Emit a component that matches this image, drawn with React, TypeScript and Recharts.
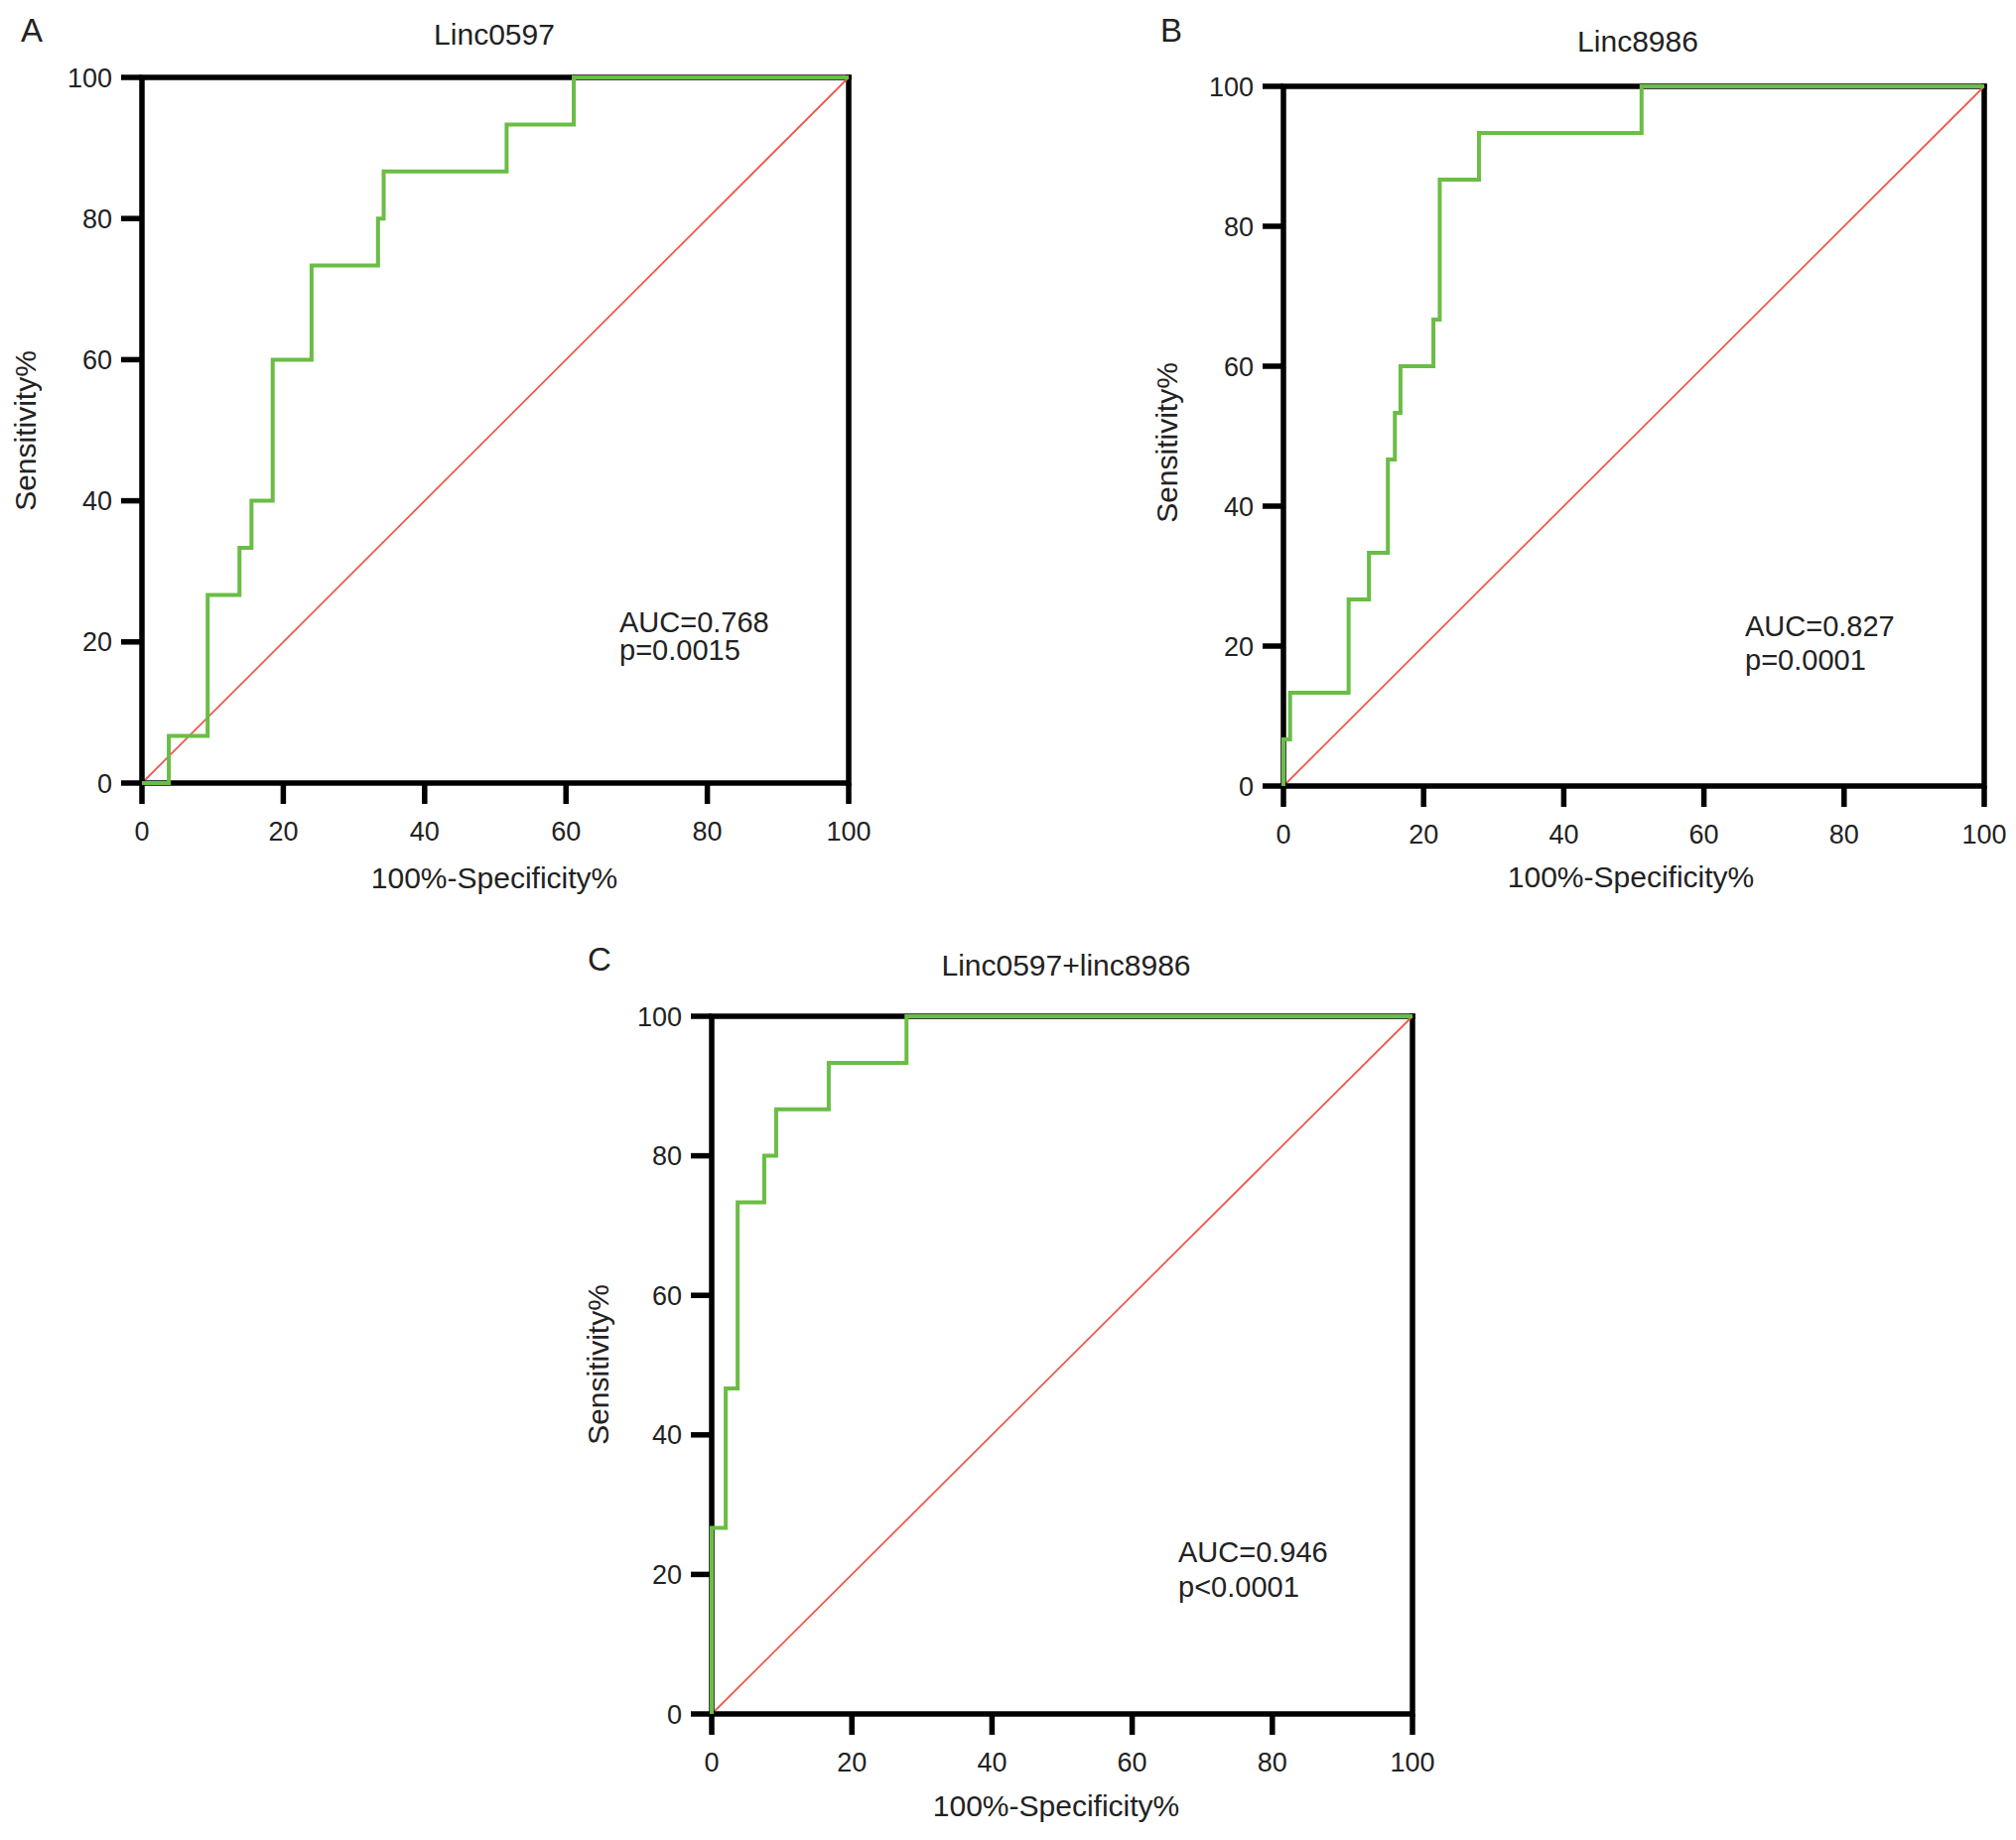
import { LineChart, Line, XAxis, YAxis, ReferenceLine } from 'recharts';

const FONT = '"Liberation Sans", Arial, Helvetica, sans-serif';
const INK = '#222';

const axisTicks = [0, 20, 40, 60, 80, 100];
const chanceFpr = [0, 100];
const chanceSens = [0, 100];

// Linc0597 ROC (100% - specificity %, sensitivity %)
const linc0597Fpr = [0, 3.8, 9.3, 13.8, 15.5, 18.5, 24.0, 33.4, 34.2, 51.6, 61.1, 100];
const linc0597Sens = [0, 6.67, 26.67, 33.33, 40, 60, 73.33, 80, 86.67, 93.33, 100, 100];

// Linc8986 ROC
const linc8986Fpr = [0, 0, 0.95, 9.3, 12.2, 14.9, 15.9, 16.7, 21.4, 22.3, 27.9, 51.1, 100];
const linc8986Sens = [0, 6.67, 13.33, 26.67, 33.33, 46.67, 53.33, 60, 66.67, 86.67, 93.33, 100, 100];

// Linc0597 + linc8986 ROC
const comboFpr = [0, 0, 2.0, 3.7, 7.5, 9.2, 16.7, 27.8, 100];
const comboSens = [0, 26.67, 46.67, 73.33, 80, 86.67, 93.33, 100, 100];

const zip = (xs: number[], ys: number[]) => xs.map((x, i) => ({ x, y: ys[i] }));

function RocPanel({ fpr, sens, left, top, width, height, mt, mr }: any) {
  const roc = zip(fpr, sens);
  const chance = zip(chanceFpr, chanceSens);
  const tick = { fill: INK, fontSize: 27, fontFamily: FONT };
  const line = { stroke: '#000', strokeWidth: 5.5 };
  return (
    <div style={{ position: 'absolute', left, top }}>
      <LineChart width={width} height={height} margin={{ top: mt, right: mr, bottom: 0, left: 0 }}>
        <XAxis type="number" dataKey="x" domain={[0, 100]} ticks={axisTicks} interval={0} height={110}
          tickSize={21} tickMargin={18} axisLine={line} tickLine={line} tick={tick} />
        <YAxis type="number" dataKey="y" domain={[0, 100]} ticks={axisTicks} interval={0} width={143}
          tickSize={21} tickMargin={9} axisLine={line} tickLine={line} tick={tick} />
        <ReferenceLine y={100} stroke="#000" strokeWidth={5.5} strokeLinecap="square" />
        <ReferenceLine x={100} stroke="#000" strokeWidth={5.5} strokeLinecap="square" />
        <Line data={chance} dataKey="y" type="linear" stroke="#EE5A4E" strokeWidth={1.8}
          dot={false} activeDot={false} isAnimationActive={false} />
        <Line data={roc} dataKey="y" type="stepAfter" stroke="#6ABD45" strokeWidth={4}
          dot={false} activeDot={false} isAnimationActive={false} zIndex={600} />
      </LineChart>
    </div>
  );
}

function Txt({ x, y, size = 30, anchor = 'middle', rotate = false, children }: any) {
  return (
    <text x={rotate ? 0 : x} y={rotate ? 0 : y} fontSize={size} fontFamily={FONT} fill={INK} textAnchor={anchor}
      transform={rotate ? `translate(${x},${y}) rotate(-90)` : undefined}>
      {children}
    </text>
  );
}

export default function App() {
  return (
    <div style={{ position: 'absolute', left: 0, top: 0, width: 2031, height: 1854, background: '#fff', overflow: 'hidden' }}>
      <RocPanel fpr={linc0597Fpr} sens={linc0597Sens} left={0} top={0} width={895} height={899} mt={78} mr={40} />
      <RocPanel fpr={linc8986Fpr} sens={linc8986Sens} left={1150} top={0} width={874} height={902} mt={87} mr={25} />
      <RocPanel fpr={comboFpr} sens={comboSens} left={574} top={900} width={889} height={937} mt={124} mr={40} />
      <svg width={2031} height={1854} style={{ position: 'absolute', left: 0, top: 0, pointerEvents: 'none' }}>
        <Txt x={21} y={42} size={33} anchor="start">A</Txt>
        <Txt x={1169} y={42} size={33} anchor="start">B</Txt>
        <Txt x={592} y={978} size={33} anchor="start">C</Txt>

        <Txt x={498} y={45}>Linc0597</Txt>
        <Txt x={1650} y={51.5}>Linc8986</Txt>
        <Txt x={1074} y={983}>Linc0597+linc8986</Txt>

        <Txt x={498} y={895}>100%-Specificity%</Txt>
        <Txt x={1643} y={894}>100%-Specificity%</Txt>
        <Txt x={1064} y={1830}>100%-Specificity%</Txt>

        <Txt x={36} y={434} rotate>Sensitivity%</Txt>
        <Txt x={1186} y={446} rotate>Sensitivity%</Txt>
        <Txt x={613} y={1375} rotate>Sensitivity%</Txt>

        <Txt x={624} y={637} size={29} anchor="start">AUC=0.768</Txt>
        <Txt x={624} y={664.5} size={29} anchor="start">p=0.0015</Txt>
        <Txt x={1758} y={641} size={29} anchor="start">AUC=0.827</Txt>
        <Txt x={1758} y={675} size={29} anchor="start">p=0.0001</Txt>
        <Txt x={1187} y={1573.5} size={29} anchor="start">AUC=0.946</Txt>
        <Txt x={1187} y={1609} size={29} anchor="start">p&lt;0.0001</Txt>
      </svg>
    </div>
  );
}
